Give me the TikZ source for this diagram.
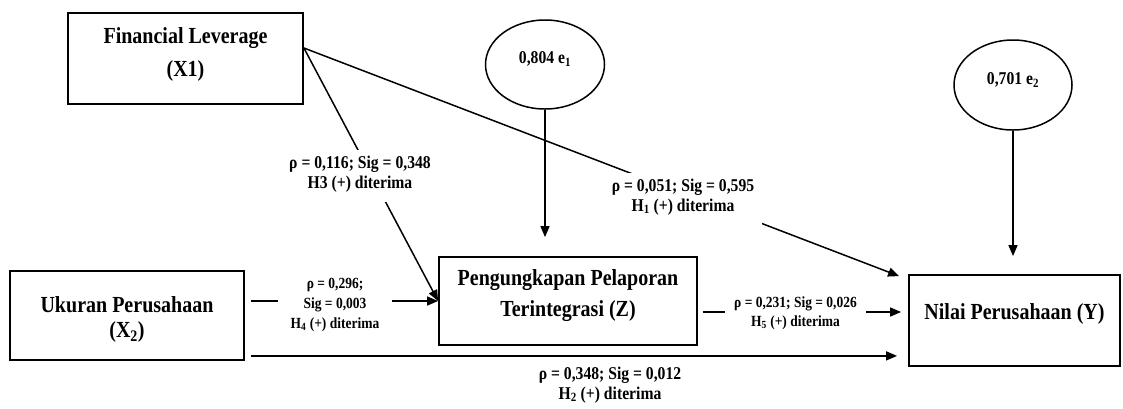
\documentclass[tikz,border=0pt]{standalone}
\usepackage{fontspec}
\newfontfamily\cf{Liberation Serif}[FakeStretch=0.87]
\usetikzlibrary{arrows.meta,shapes.geometric,calc}
\tikzset{
  box/.style={draw, line width=1.8pt, rectangle, inner sep=0pt, align=center,
    font=\cf\bfseries\fontsize{23}{30}\selectfont},
  errnode/.style={draw, line width=1.5pt, ellipse, inner sep=0pt,
    font=\cf\bfseries\fontsize{18}{20}\selectfont},
  conn/.style={line width=1.5pt, -{Triangle[length=11pt,width=9pt]}},
  lbl/.style={fill=white, inner xsep=8pt, inner ysep=6pt, align=center,
    font=\cf\bfseries\fontsize{18}{20}\selectfont},
  lbls/.style={lbl, font=\cf\bfseries\fontsize{15.5}{20}\selectfont},
}
\begin{document}
\begin{tikzpicture}[x=1pt,y=-1pt]
\fill[white] (0,0) rectangle (1123,408);
\useasboundingbox (0,0) rectangle (1123,408);

% boxes
\node[box, minimum width=235pt, minimum height=91pt,
  font=\cf\bfseries\fontsize{23}{33}\selectfont] (X1) at (185.5,58.5)
  {Financial Leverage\\(X1)\rule[-12pt]{0pt}{12pt}};
\node[box, minimum width=234pt, minimum height=89pt,
  font=\cf\bfseries\fontsize{23}{25}\selectfont] (X2) at (127,315.5)
  {\rule{0pt}{24pt}Ukuran Perusahaan\\(X\textsubscript{2})};
\node[box, minimum width=258pt, minimum height=88pt,
  font=\cf\bfseries\fontsize{23}{31}\selectfont] (Z) at (568,301)
  {Pengungkapan Pelaporan\\Terintegrasi (Z)\rule[-16pt]{0pt}{16pt}};
\node[box, minimum width=211pt, minimum height=91pt] (Y) at (1014.5,320.5)
  {Nilai Perusahaan (Y)\rule[-17pt]{0pt}{17pt}};

% error terms
\node[errnode, minimum width=119pt, minimum height=89pt] (e1) at (545,64.5)
  {0,804 e\textsubscript{1}\rule[-14pt]{0pt}{14pt}};
\node[errnode, minimum width=118pt, minimum height=90pt] (e2) at (1013,85)
  {0,701 e\textsubscript{2}\rule[-12pt]{0pt}{12pt}};

% connectors
\coordinate (x1o) at ([yshift=10.5pt]X1.east);
\draw[conn] (x1o) -- (Z.west);
\draw[conn] (x1o) -- ($(Y.north west)+(-9,2)$);
\draw[conn] ($(X2.east |- Z.west)+(6,0)$) -- (Z.west);
\draw[conn] ($(Z.east)+(5,11)$) -- ($(Y.west)+(-7,-8.5)$);
\draw[conn] ($(X2.south east)+(6,-5)$) -- ($(Y.south west)+(-11,-11)$);
\draw[conn] (e1.south) -- ($(e1.south |- Z.north)+(0,-19)$);
\draw[conn] (e2.south) -- ($(e2.south |- Y.north)+(0,-18)$);

% labels
\node[lbl] (l3) at (360,175.8)
  {ρ = 0,116; Sig = 0,348\\H3 (+) diterima\rule[-8pt]{0pt}{8pt}};
\node[lbl] (l1) at (683,198.8)
  {ρ = 0,051; Sig = 0,595\\H\textsubscript{1} (+) diterima\rule[-8pt]{0pt}{8pt}};
\node[lbls, inner xsep=13pt] (l4) at (335,304.6)
  {ρ = 0,296;\\Sig = 0,003\\H\textsubscript{4} (+) diterima};
\node[lbls, inner xsep=9pt, font=\cf\bfseries\fontsize{15.5}{19}\selectfont] (l5) at (795.5,313.1)
  {ρ = 0,231; Sig = 0,026\\H\textsubscript{5} (+) diterima};
\node[lbl] (l2) at (610,384.8)
  {ρ = 0,348; Sig = 0,012\\H\textsubscript{2} (+) diterima};
\end{tikzpicture}
\end{document}
